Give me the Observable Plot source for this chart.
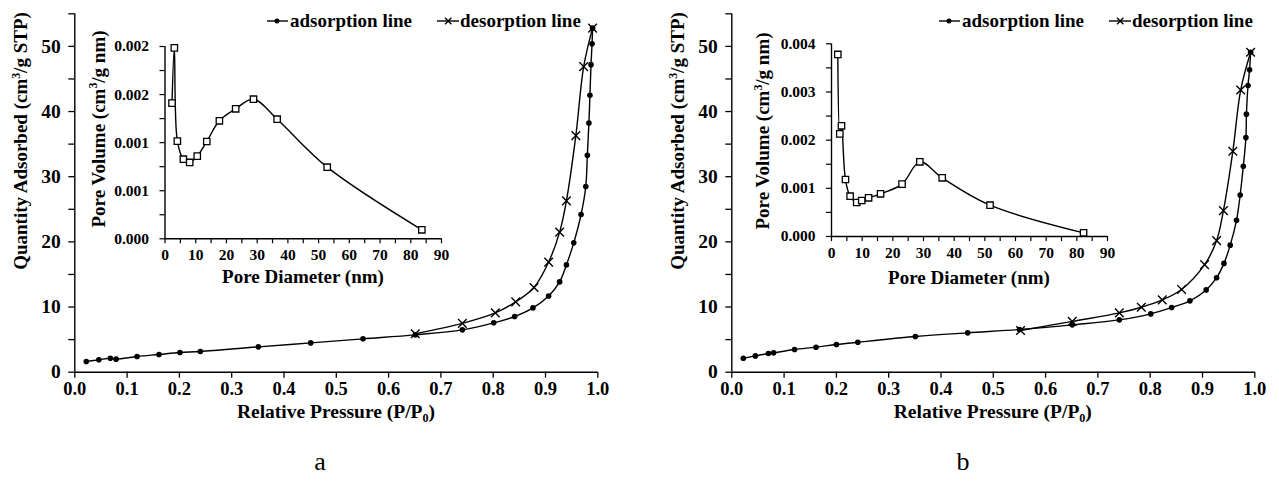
<!DOCTYPE html>
<html>
<head>
<meta charset="utf-8">
<script src="https://cdn.jsdelivr.net/npm/d3@7"></script>
<script src="https://cdn.jsdelivr.net/npm/@observablehq/plot@0.6"></script>
<style>
  html, body { margin: 0; padding: 0; background: #fff; }
  #wrap { position: relative; width: 1279px; height: 486px; overflow: hidden; background: #fff; }
  #wrap svg { position: absolute; top: 0; }
</style>
</head>
<body>
<div id="wrap"></div>
<script>
// ---------- DATA ----------
// Panel a – isotherm
const aAdsP = [0.022,0.046,0.068,0.079,0.119,0.161,0.201,0.240,0.351,0.451,0.551,0.651,0.741,0.801,0.841,0.876,0.906,0.927,0.940,0.954,0.968,0.977,0.980,0.983,0.985,0.987,0.989,0.990];
const aAdsQ = [1.64,1.90,2.15,2.00,2.41,2.72,3.02,3.17,3.89,4.50,5.12,5.73,6.50,7.57,8.54,9.87,11.7,13.86,16.47,19.85,24.2,28.5,33.3,38.25,42.5,47.2,50.4,52.8];
const aDesP = [0.651,0.741,0.804,0.843,0.878,0.906,0.927,0.940,0.958,0.973,0.990];
const aDesQ = [5.9,7.5,9.1,10.8,13.0,16.9,21.5,26.3,36.3,46.9,52.8];
// Panel a – inset pore size distribution
const aPoreD = [2.28,3.04,4.02,5.98,8.04,10.5,13.6,17.7,23.0,28.8,36.5,52.8,83.6];
const aPoreV = [0.001411,0.001986,0.001016,0.000828,0.000794,0.00086,0.001012,0.001227,0.001352,0.001452,0.001244,0.000745,0.0000936];

// Panel b – isotherm
const bAdsP = [0.022,0.045,0.070,0.080,0.120,0.161,0.200,0.241,0.351,0.451,0.550,0.651,0.741,0.801,0.841,0.876,0.907,0.927,0.941,0.953,0.965,0.972,0.978,0.983,0.984,0.987,0.990,0.992];
const bAdsQ = [2.15,2.50,2.86,2.97,3.48,3.84,4.25,4.60,5.47,6.04,6.55,7.27,8.03,8.95,9.92,10.95,12.63,14.5,16.7,19.5,23.3,27.2,31.6,36.0,39.6,44.0,46.4,49.1];
const bDesP = [0.552,0.651,0.741,0.783,0.823,0.860,0.904,0.927,0.940,0.958,0.973,0.992];
const bDesQ = [6.4,7.8,9.1,9.97,11.1,12.7,16.5,20.2,24.8,33.9,43.3,49.1];
// Panel b – inset
const bPoreD = [2.06,2.71,3.25,4.55,6.07,8.23,9.86,12.1,16.0,23.0,28.8,36.1,51.7,82.2];
const bPoreV = [0.003779,0.002131,0.002298,0.001183,0.000837,0.000706,0.000747,0.000803,0.000886,0.001087,0.00155,0.001218,0.00065,0.0000761];

// Ticks
const mainXTicks = [0,0.1,0.2,0.3,0.4,0.5,0.6,0.7,0.8,0.9,1.0];
const mainXLabels = ["0.0","0.1","0.2","0.3","0.4","0.5","0.6","0.7","0.8","0.9","1.0"];
const mainYTicks = [0,10,20,30,40,50];
const mainYLabels = ["0","10","20","30","40","50"];
const mainYMinor = [0,5,10,15,20,25,30,35,40,45,50,55];
const mainYDomain = [0,55];
const insetXTicks = [0,10,20,30,40,50,60,70,80,90];
const insetXLabels = ["0","10","20","30","40","50","60","70","80","90"];
const insetXMinor = [0,5,10,15,20,25,30,35,40,45,50,55,60,65,70,75,80,85,90];
const insetXDomain = [0,90];
const aInsetYTicks = [0,0.0005,0.001,0.0015,0.002];
const aInsetYLabels = ["0.000","0.001","0.001","0.002","0.002"];
const aInsetYMinor = [0,0.00025,0.0005,0.00075,0.001,0.00125,0.0015,0.00175,0.002];
const aInsetYDomain = [0,0.002];
const bInsetYTicks = [0,0.001,0.002,0.003,0.004];
const bInsetYLabels = ["0.000","0.001","0.002","0.003","0.004"];
const bInsetYMinor = [0,0.0005,0.001,0.0015,0.002,0.0025,0.003,0.0035,0.004];
const bInsetYDomain = [0,0.004];

const legendLabels = ["adsorption line","desorption line"];
const xTitle = "Relative Pressure (P/P";
const yTitle = "Quantity Adsorbed (cm";
const insetXTitle = "Pore Diameter (nm)";
const insetYTitle = "Pore Volume (cm";
const captions = ["a","b"];

// ---------- HELPERS ----------
const FONT = "'Liberation Serif', 'Times New Roman', serif";
const zip = (xs, ys) => xs.map((x, i) => ({x, y: ys[i]}));
const wrap = document.getElementById("wrap");
const H = 486;

function mainPlot(cfg) {
  const ads = zip(cfg.adsP, cfg.adsQ), des = zip(cfg.desP, cfg.desQ);
  const svg = Plot.plot({
    width: cfg.width, height: H,
    marginLeft: cfg.x0, marginRight: cfg.width - cfg.x1,
    marginTop: cfg.yTop, marginBottom: H - cfg.y0,
    x: {domain: [0, 1], axis: null},
    y: {domain: mainYDomain, axis: null},
    style: {fontFamily: FONT, fontWeight: "bold", color: "black", background: "transparent", overflow: "visible"},
    marks: [
      Plot.ruleY([0], {stroke: "black", strokeWidth: 1.4}),
      Plot.ruleX([0], {stroke: "black", strokeWidth: 1.4}),
      Plot.axisX(mainXTicks, {tickSize: 6, tickPadding: 4, fontSize: 18.5, label: null, tickFormat: d => mainXLabels[mainXTicks.indexOf(d)], strokeWidth: 1.3}),
      Plot.axisY(mainYMinor, {tickSize: 6, text: null, label: null, strokeWidth: 1.3}),
      Plot.axisY(mainYTicks, {tickSize: 0, tickPadding: 14, fontSize: 19.5, label: null, tickFormat: d => mainYLabels[mainYTicks.indexOf(d)]}),
      Plot.line(ads, {x: "x", y: "y", curve: "catmull-rom", stroke: "black", strokeWidth: 1.4}),
      Plot.line(des, {x: "x", y: "y", curve: "catmull-rom", stroke: "black", strokeWidth: 1.4}),
      Plot.dot(ads, {x: "x", y: "y", r: 2.8, fill: "black", stroke: "none"}),
      Plot.dot(des, {x: "x", y: "y", r: 4, symbol: "times", stroke: "black", strokeWidth: 1.4})
    ]
  });
  svg.style.left = cfg.left + "px";
  wrap.appendChild(svg);
  return svg;
}

function insetPlot(cfg) {
  const pts = zip(cfg.D, cfg.V);
  const svg = Plot.plot({
    width: cfg.width, height: H,
    marginLeft: cfg.x0, marginRight: cfg.width - cfg.x1,
    marginTop: cfg.yTop, marginBottom: H - cfg.y0,
    x: {domain: insetXDomain, axis: null},
    y: {domain: cfg.yDomain, axis: null},
    style: {fontFamily: FONT, fontWeight: "bold", color: "black", background: "transparent", overflow: "visible"},
    marks: [
      Plot.ruleY([0], {stroke: "black", strokeWidth: 1.4}),
      Plot.ruleX([0], {stroke: "black", strokeWidth: 1.4}),
      Plot.axisX(insetXMinor, {tickSize: 5, text: null, label: null, strokeWidth: 1.2}),
      Plot.axisX(insetXTicks, {tickSize: 0, tickPadding: 10, fontSize: 15.5, label: null, tickFormat: d => insetXLabels[insetXTicks.indexOf(d)]}),
      Plot.axisY(cfg.yMinor, {tickSize: 5, text: null, label: null, strokeWidth: 1.2}),
      Plot.axisY(cfg.yTicks, {tickSize: 0, tickPadding: 16, fontSize: 15.5, label: null, tickFormat: d => cfg.yLabels[cfg.yTicks.indexOf(d)]}),
      Plot.line(pts, {x: "x", y: "y", curve: "catmull-rom", stroke: "black", strokeWidth: 1.4}),
      Plot.dot(pts, {x: "x", y: "y", r: 3.6, symbol: "square", fill: "white", stroke: "black", strokeWidth: 1.3})
    ]
  });
  svg.style.left = cfg.left + "px";
  wrap.appendChild(svg);
  return svg;
}

function addText(svg, {x, y, rotate = 0, size = 19, weight = "bold", parts, anchor = "middle"}) {
  const t = d3.select(svg).append("text")
    .attr("transform", `translate(${x},${y}) rotate(${rotate})`)
    .attr("text-anchor", anchor)
    .attr("font-family", FONT).attr("font-weight", weight).attr("font-size", size)
    .attr("fill", "black");
  let shift = 0;
  parts.forEach(p => {
    const sp = t.append("tspan").text(p.t);
    let target = 0;
    if (p.sup) { sp.attr("font-size", size * 0.62); target = -size * 0.38; }
    else if (p.sub) { sp.attr("font-size", size * 0.62); target = size * 0.22; }
    if (target !== shift) { sp.attr("dy", target - shift); shift = target; }
  });
}

function addLegend(svg, lx, y, textX1, lx2, textX2) {
  const g = d3.select(svg).append("g").attr("stroke", "black").attr("stroke-width", 1.4);
  g.append("line").attr("x1", lx).attr("x2", lx + 21).attr("y1", y).attr("y2", y);
  g.append("circle").attr("cx", lx + 10).attr("cy", y).attr("r", 2.5).attr("fill", "black").attr("stroke", "none");
  g.append("line").attr("x1", lx2).attr("x2", lx2 + 22).attr("y1", y).attr("y2", y);
  g.append("path").attr("d", `M${lx2 + 8},${y - 3.2}L${lx2 + 14.4},${y + 3.2}M${lx2 + 8},${y + 3.2}L${lx2 + 14.4},${y - 3.2}`).attr("fill", "none");
  addText(svg, {x: textX1, y: y + 6, anchor: "start", parts: [{t: legendLabels[0]}]});
  addText(svg, {x: textX2, y: y + 6, anchor: "start", parts: [{t: legendLabels[1]}]});
}

// ---------- PANEL A ----------
const svgA = mainPlot({left: 0, width: 640, x0: 74.3, x1: 597.3, yTop: 13.3, y0: 371.7, adsP: aAdsP, adsQ: aAdsQ, desP: aDesP, desQ: aDesQ});
const insA = insetPlot({left: 0, width: 640, x0: 164.5, x1: 441, yTop: 46, y0: 238.3, D: aPoreD, V: aPoreV,
  yDomain: aInsetYDomain, yTicks: aInsetYTicks, yLabels: aInsetYLabels, yMinor: aInsetYMinor});

addText(svgA, {x: 336, y: 418, size: 19.5, parts: [{t: xTitle}, {t: "0", sub: true}, {t: ")"}]});
addText(svgA, {x: 27, y: 141, rotate: -90, parts: [{t: yTitle}, {t: "3", sup: true}, {t: "/g STP)"}]});
addText(insA, {x: 303, y: 282.5, parts: [{t: insetXTitle}]});
addText(insA, {x: 104.5, y: 129, rotate: -90, parts: [{t: insetYTitle}, {t: "3", sup: true}, {t: "/g nm)"}]});
addLegend(svgA, 267, 21, 290, 437, 460);
addText(svgA, {x: 320, y: 470, size: 26, weight: "normal", parts: [{t: captions[0]}]});

// ---------- PANEL B ----------
const offB = 640;
const svgB = mainPlot({left: offB, width: 639, x0: 731.3 - offB, x1: 1254.3 - offB, yTop: 13.3, y0: 371.7, adsP: bAdsP, adsQ: bAdsQ, desP: bDesP, desQ: bDesQ});
const insB = insetPlot({left: offB, width: 639, x0: 831 - offB, x1: 1107 - offB, yTop: 43.3, y0: 236, D: bPoreD, V: bPoreV,
  yDomain: bInsetYDomain, yTicks: bInsetYTicks, yLabels: bInsetYLabels, yMinor: bInsetYMinor});

addText(svgB, {x: 992.8 - offB, y: 418, size: 19.5, parts: [{t: xTitle}, {t: "0", sub: true}, {t: ")"}]});
addText(svgB, {x: 684 - offB, y: 141, rotate: -90, parts: [{t: yTitle}, {t: "3", sup: true}, {t: "/g STP)"}]});
addText(insB, {x: 969 - offB, y: 284, parts: [{t: insetXTitle}]});
addText(insB, {x: 769 - offB, y: 131, rotate: -90, parts: [{t: insetYTitle}, {t: "3", sup: true}, {t: "/g nm)"}]});
addLegend(svgB, 939 - offB, 21, 962 - offB, 1109 - offB, 1132 - offB);
addText(svgB, {x: 963 - offB, y: 470, size: 26, weight: "normal", parts: [{t: captions[1]}]});
</script>
</body>
</html>
